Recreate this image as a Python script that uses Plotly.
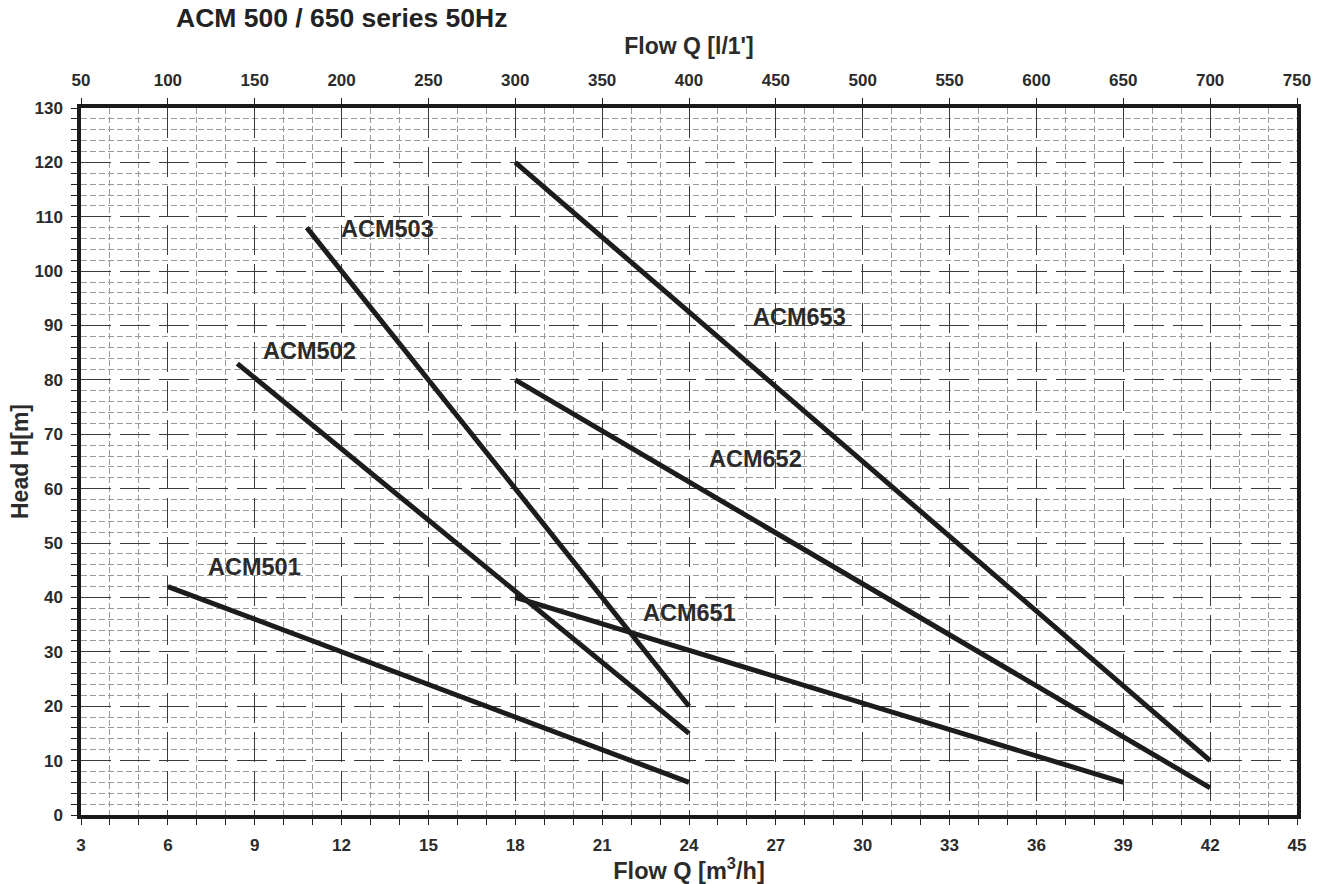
import plotly.graph_objects as go

# Data (flow in m3/h, head in m)
models = ["ACM501", "ACM502", "ACM503", "ACM651", "ACM652", "ACM653"]
q_start = [6.0, 8.4, 10.8, 18.0, 18.0, 18.0]
q_end = [24.0, 24.0, 24.0, 39.0, 42.0, 42.0]
h_start = [42.0, 83.0, 108.0, 40.0, 80.0, 120.0]
h_end = [6.0, 15.0, 20.0, 6.0, 5.0, 10.0]

label_q = [9.0, 10.9, 13.6, 24.0, 26.3, 27.8]
label_h = [45.6, 85.3, 107.7, 37.1, 65.4, 91.5]

top_ticks = [50, 100, 150, 200, 250, 300, 350, 400, 450, 500, 550, 600, 650, 700, 750]

FONT = "Liberation Sans, Arial, sans-serif"
LINE = "#1c1c1c"
TXT = "#2b2b2b"

fig = go.Figure()
for i, m in enumerate(models):
    fig.add_trace(go.Scatter(
        x=[q_start[i], q_end[i]], y=[h_start[i], h_end[i]],
        mode="lines", line=dict(color=LINE, width=5),
        name=m, showlegend=False, hoverinfo="skip"))

# invisible trace on the top axis (l/min)
fig.add_trace(go.Scatter(x=[top_ticks[0], top_ticks[-1]], y=[0, 0], xaxis="x2",
                         mode="lines", line=dict(width=0), showlegend=False,
                         hoverinfo="skip", opacity=0))

for i, m in enumerate(models):
    fig.add_annotation(x=label_q[i], y=label_h[i], text="<b>%s</b>" % m,
                       showarrow=False, font=dict(family=FONT, size=23.5, color=TXT),
                       xanchor="center", yanchor="middle")

fig.add_annotation(xref="paper", yref="paper", x=0.0765, y=1.127, xanchor="left",
                   yanchor="middle", text="<b>ACM 500 / 650 series 50Hz</b>",
                   showarrow=False, font=dict(family=FONT, size=26.5, color="#222"))

axis_common = dict(
    showline=True, linecolor="#1a1a1a", linewidth=3.5,
    ticks="outside", ticklen=6, tickwidth=1.2, tickcolor="#222",
    tickfont=dict(family=FONT, size=17, color=TXT, weight="bold"),
    zeroline=False, automargin=False,
)

fig.update_layout(
    width=1320, height=884,
    margin=dict(l=81, r=23, t=108, b=69),
    plot_bgcolor="white", paper_bgcolor="white",
    xaxis=dict(
        range=[3, 45], tickmode="linear", tick0=3, dtick=3,
        showgrid=True, gridcolor="#3a3a3a", gridwidth=1, griddash="30px,9px",
        mirror=True,
        minor=dict(dtick=1, tick0=3, showgrid=True, gridcolor="#9a9a9a",
                   griddash="6px,3px", gridwidth=1, ticks="outside",
                   ticklen=6, tickcolor="#222"),
        title=dict(text="<b>Flow Q [m<sup>3</sup>/h]</b>", standoff=1,
                   font=dict(family=FONT, size=23.5, color=TXT)),
        ticklabelstandoff=6,
        **axis_common),
    xaxis2=dict(
        range=[50, 750], tickmode="array", tickvals=top_ticks,
        overlaying="x", side="top", showgrid=False,
        title=dict(text="<b>Flow Q [l/1']</b>", standoff=11,
                   font=dict(family=FONT, size=23, color=TXT)),
        ticklabelstandoff=5,
        **axis_common),
    yaxis=dict(
        range=[0, 130], tickmode="linear", tick0=0, dtick=10,
        showgrid=True, gridcolor="#3a3a3a", gridwidth=1, griddash="30px,9px",
        mirror=True,
        minor=dict(dtick=2, tick0=0, showgrid=True, gridcolor="#9a9a9a",
                   griddash="6px,3px", gridwidth=1, ticks="outside",
                   ticklen=6, tickcolor="#222"),
        title=dict(text="<b>Head H[m]</b>", standoff=0,
                   font=dict(family=FONT, size=23, color=TXT)),
        ticklabelstandoff=5,
        **axis_common),
)

fig.write_html("out.html")
